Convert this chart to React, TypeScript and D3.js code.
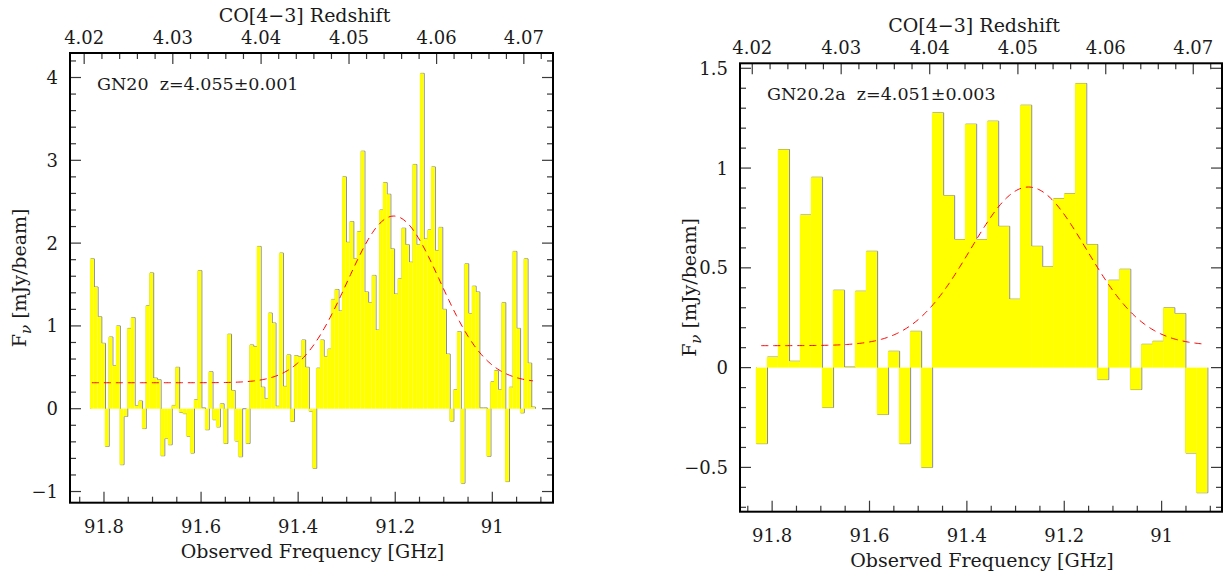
import React from "react";
import * as d3 from "d3";

// CO(4-3) rest frequency (GHz) used for the redshift (top) axis
const CO43_REST = 461.0408;

// ---------- Data: GN20 (left panel) ----------
const gn20StartFreq = 91.8288; // upper edge of first channel (GHz)
const gn20ChanWidth = 0.007635; // GHz per channel
const gn20Flux = [
  1.81, 1.47, 1.11, 0.79, -0.455, 0.866, 0.52, 1.0, -0.676, -0.093,
  0.97, 1.1, 0.036, 0.093, -0.24, 1.244, 1.64, 0.37, 0.35, -0.568,
  -0.36, -0.435, 0.04, 0.5, -0.044, -0.06, -0.334, -0.535, 0.109, 1.667,
  0.01, -0.254, 0.447, -0.133, -0.22, 0.06, -0.42, 0.9, 0.22, -0.39,
  -0.58, 0.0, -0.42, 0.77, 0.75, 1.96, 0.26, 0.12, 1.155, 1.035,
  0.03, 1.88, 0.27, 0.65, -0.153, 0.64, 0.63, 0.83, 0.5, -0.03,
  -0.72, 0.49, 0.83, 0.63, 0.72, 1.32, 1.44, 1.18, 2.8, 2.01,
  2.26, 1.81, 2.14, 3.11, 1.41, 1.28, 1.61, 0.95, 2.4, 2.73,
  2.59, 1.93, 1.385, 1.57, 2.18, 1.98, 1.77, 2.95, 1.98, 4.05,
  2.05, 2.16, 2.92, 1.91, 2.19, 1.2, 0.66, -0.15, 0.23, 0.93,
  -0.9, 1.75, 1.15, 1.48, 1.41, 0.01, 0.01, -0.575, 0.326, 0.46,
  0.23, 1.28, -0.88, 0.26, 1.9, 0.97, -0.05, 1.81, 0.55, 0.02,
];
// Gaussian fit: baseline, amplitude, centre (GHz), sigma (GHz)
const gn20Fit = [0.314, 2.013, 91.203, 0.0957];
const gn20Label = "GN20  z=4.055\u00b10.001";
const gn20YTicks = [-1, 0, 1, 2, 3, 4];
const gn20YTickLabels = ["\u22121", "0", "1", "2", "3", "4"];

// ---------- Data: GN20.2a (right panel) ----------
const gn202aStartFreq = 91.8335;
const gn202aChanWidth = 0.02261;
const gn202aFlux = [
  -0.381, 0.053, 1.093, 0.032, 0.765, 0.954, -0.2, 0.388, 0.003, 0.383,
  0.583, -0.235, 0.082, -0.381, 0.182, -0.5, 1.277, 0.862, 0.642, 1.22,
  0.642, 1.235, 0.708, 0.343, 1.315, 0.608, 0.505, 0.847, 0.872, 1.424,
  0.617, -0.06, 0.438, 0.493, -0.11, 0.117, 0.132, 0.3, 0.271, -0.428,
  -0.627,
];
const gn202aFit = [0.11, 0.795, 91.2735, 0.1192];
const gn202aLabel = "GN20.2a  z=4.051\u00b10.003";
const gn202aYTicks = [-0.5, 0, 0.5, 1, 1.5];
const gn202aYTickLabels = ["\u22120.5", "0", "0.5", "1", "1.5"];

// ---------- Shared axis ticks ----------
const freqTicks = [91.8, 91.6, 91.4, 91.2, 91.0];
const freqTickLabels = ["91.8", "91.6", "91.4", "91.2", "91"];
const redshiftTicks = [4.02, 4.03, 4.04, 4.05, 4.06, 4.07];
const redshiftTickLabels = ["4.02", "4.03", "4.04", "4.05", "4.06", "4.07"];

const FONT = "'DejaVu Serif', serif";
const TEXT = "#1a1a1a";
const TICK = "#3a3a3a";

function stepRange(lo: number, hi: number, step: number) {
  const a = Math.ceil(lo / step - 1e-9);
  const b = Math.floor(hi / step + 1e-9);
  return d3.range(a, b + 1).map((k) => +(k * step).toFixed(6));
}

type PanelProps = {
  L: number; R: number; T: number; B: number;
  xDomain: [number, number];
  yDomain: [number, number];
  yTicks: number[];
  yTickLabels: string[];
  yMinorStep: number;
  flux: number[];
  start: number;
  width: number;
  fit: number[];
  label: string;
};

function Panel(p: PanelProps) {
  const { L, R, T, B } = p;
  const x = d3.scaleLinear().domain(p.xDomain).range([L, R]);
  const y = d3.scaleLinear().domain(p.yDomain).range([B, T]);
  const MAJ = 11;
  const MIN = 6;
  const mid = (L + R) / 2;

  const bars = p.flux.map((v, i) => {
    const f0 = p.start - i * p.width;
    const f1 = p.start - (i + 1) * p.width;
    return { x0: x(f0), x1: x(f1), v };
  });

  // step outline
  const pts: [number, number][] = [];
  bars.forEach((b, i) => {
    if (i === 0) pts.push([b.x0, y(0)]);
    pts.push([b.x0, y(b.v)]);
    pts.push([b.x1, y(b.v)]);
    if (i === bars.length - 1) pts.push([b.x1, y(0)]);
  });
  const outline = d3.line()(pts) || "";

  // gaussian fit
  const [base, amp, cen, sig] = p.fit;
  const fHi = p.start - p.width / 2;
  const fLo = p.start - (p.flux.length - 0.5) * p.width;
  const fitPts = d3.range(0, 301).map((k) => {
    const f = fHi + ((fLo - fHi) * k) / 300;
    const val = base + amp * Math.exp(-0.5 * ((f - cen) / sig) ** 2);
    return [x(f), y(val)] as [number, number];
  });
  const fitPath = d3.line()(fitPts) || "";

  const xLo = Math.min(...p.xDomain);
  const xHi = Math.max(...p.xDomain);
  const freqMinor = stepRange(xLo, xHi, 0.05).filter(
    (f) => !freqTicks.some((t) => Math.abs(t - f) < 1e-6)
  );
  const zLo = CO43_REST / xHi - 1;
  const zHi = CO43_REST / xLo - 1;
  const zMinor = stepRange(zLo, zHi, 0.002).filter(
    (z) => !redshiftTicks.some((t) => Math.abs(t - z) < 1e-6)
  );
  const zx = (z: number) => x(CO43_REST / (1 + z));
  const yMinor = stepRange(p.yDomain[0], p.yDomain[1], p.yMinorStep).filter(
    (v) => !p.yTicks.some((t) => Math.abs(t - v) < 1e-6)
  );

  return (
    <g>
      {/* data */}
      <path d={outline} fill="none" stroke="#8a8a8a" strokeWidth={1} transform="translate(0.7,0)" />
      {bars.map((b, i) => (
        <rect
          key={i}
          x={b.x0}
          width={b.x1 - b.x0 + 0.05}
          y={y(Math.max(b.v, 0))}
          height={Math.abs(y(b.v) - y(0))}
          fill="#ffff00"
        />
      ))}
      <path d={fitPath} fill="none" stroke="#ff0000" strokeWidth={1} strokeDasharray="7,5" />

      {/* ticks bottom/top frequency */}
      {freqTicks.map((f, i) => (
        <g key={"fm" + i}>
          <line x1={x(f)} x2={x(f)} y1={B} y2={B - MAJ} stroke={TICK} strokeWidth={1.2} />
          <text x={x(f)} y={B + 30} textAnchor="middle" fontFamily={FONT} fontSize={18} fill={TEXT}>
            {freqTickLabels[i]}
          </text>
        </g>
      ))}
      {freqMinor.map((f, i) => (
        <line key={"fn" + i} x1={x(f)} x2={x(f)} y1={B} y2={B - MIN} stroke={TICK} strokeWidth={1.2} />
      ))}
      {redshiftTicks.map((z, i) => (
        <g key={"zm" + i}>
          <line x1={zx(z)} x2={zx(z)} y1={T} y2={T + MAJ} stroke={TICK} strokeWidth={1.2} />
          <text x={zx(z)} y={T - 9} textAnchor="middle" fontFamily={FONT} fontSize={18} fill={TEXT}>
            {redshiftTickLabels[i]}
          </text>
        </g>
      ))}
      {zMinor.map((z, i) => (
        <line key={"zn" + i} x1={zx(z)} x2={zx(z)} y1={T} y2={T + MIN} stroke={TICK} strokeWidth={1.2} />
      ))}

      {/* y ticks */}
      {p.yTicks.map((v, i) => (
        <g key={"ym" + i}>
          <line x1={L} x2={L + MAJ} y1={y(v)} y2={y(v)} stroke={TICK} strokeWidth={1.2} />
          <line x1={R} x2={R - MAJ} y1={y(v)} y2={y(v)} stroke={TICK} strokeWidth={1.2} />
          <text x={L - 12} y={y(v) + 6.5} textAnchor="end" fontFamily={FONT} fontSize={18} fill={TEXT}>
            {p.yTickLabels[i]}
          </text>
        </g>
      ))}
      {yMinor.map((v, i) => (
        <g key={"yn" + i}>
          <line x1={L} x2={L + MIN} y1={y(v)} y2={y(v)} stroke={TICK} strokeWidth={1.2} />
          <line x1={R} x2={R - MIN} y1={y(v)} y2={y(v)} stroke={TICK} strokeWidth={1.2} />
        </g>
      ))}

      {/* frame */}
      <rect x={L} y={T} width={R - L} height={B - T} fill="none" stroke="#000" strokeWidth={2} />

      {/* titles */}
      <text x={mid - 7} y={T - 31} textAnchor="middle" fontFamily={FONT} fontSize={19} fill={TEXT}>
        CO[4{"\u2212"}3] Redshift
      </text>
      <text x={mid + 1} y={B + 55} textAnchor="middle" fontFamily={FONT} fontSize={19} fill={TEXT}>
        Observed Frequency [GHz]
      </text>
      <text
        transform={`translate(${L - 44},${(T + B) / 2}) rotate(-90)`}
        textAnchor="middle"
        fontFamily={FONT}
        fontSize={19}
        fill={TEXT}
      >
        <tspan>F</tspan>
        <tspan dy={5} fontSize={15} fontStyle="italic">{"\u03bd"}</tspan>
        <tspan dy={-5}>{"  [mJy/beam]"}</tspan>
      </text>
      <text x={L + 27} y={T + 37} fontFamily={FONT} fontSize={17.5} fill={TEXT} style={{ whiteSpace: "pre" }}>
        {p.label}
      </text>
    </g>
  );
}

export default function App() {
  return (
    <svg
      width={1224}
      height={573}
      style={{ position: "fixed", left: 0, top: 0, background: "#fff" }}
    >
      <rect x={0} y={0} width={1224} height={573} fill="#fff" />
      <Panel
        L={70} R={553} T={53} B={502.7}
        xDomain={[91.87, 90.875]}
        yDomain={[-1.135, 4.296]}
        yTicks={gn20YTicks}
        yTickLabels={gn20YTickLabels}
        yMinorStep={0.2}
        flux={gn20Flux}
        start={gn20StartFreq}
        width={gn20ChanWidth}
        fit={gn20Fit}
        label={gn20Label}
      />
      <Panel
        L={740} R={1222} T={63.3} B={511.7}
        xDomain={[91.866, 90.876]}
        yDomain={[-0.722, 1.525]}
        yTicks={gn202aYTicks}
        yTickLabels={gn202aYTickLabels}
        yMinorStep={0.1}
        flux={gn202aFlux}
        start={gn202aStartFreq}
        width={gn202aChanWidth}
        fit={gn202aFit}
        label={gn202aLabel}
      />
    </svg>
  );
}
